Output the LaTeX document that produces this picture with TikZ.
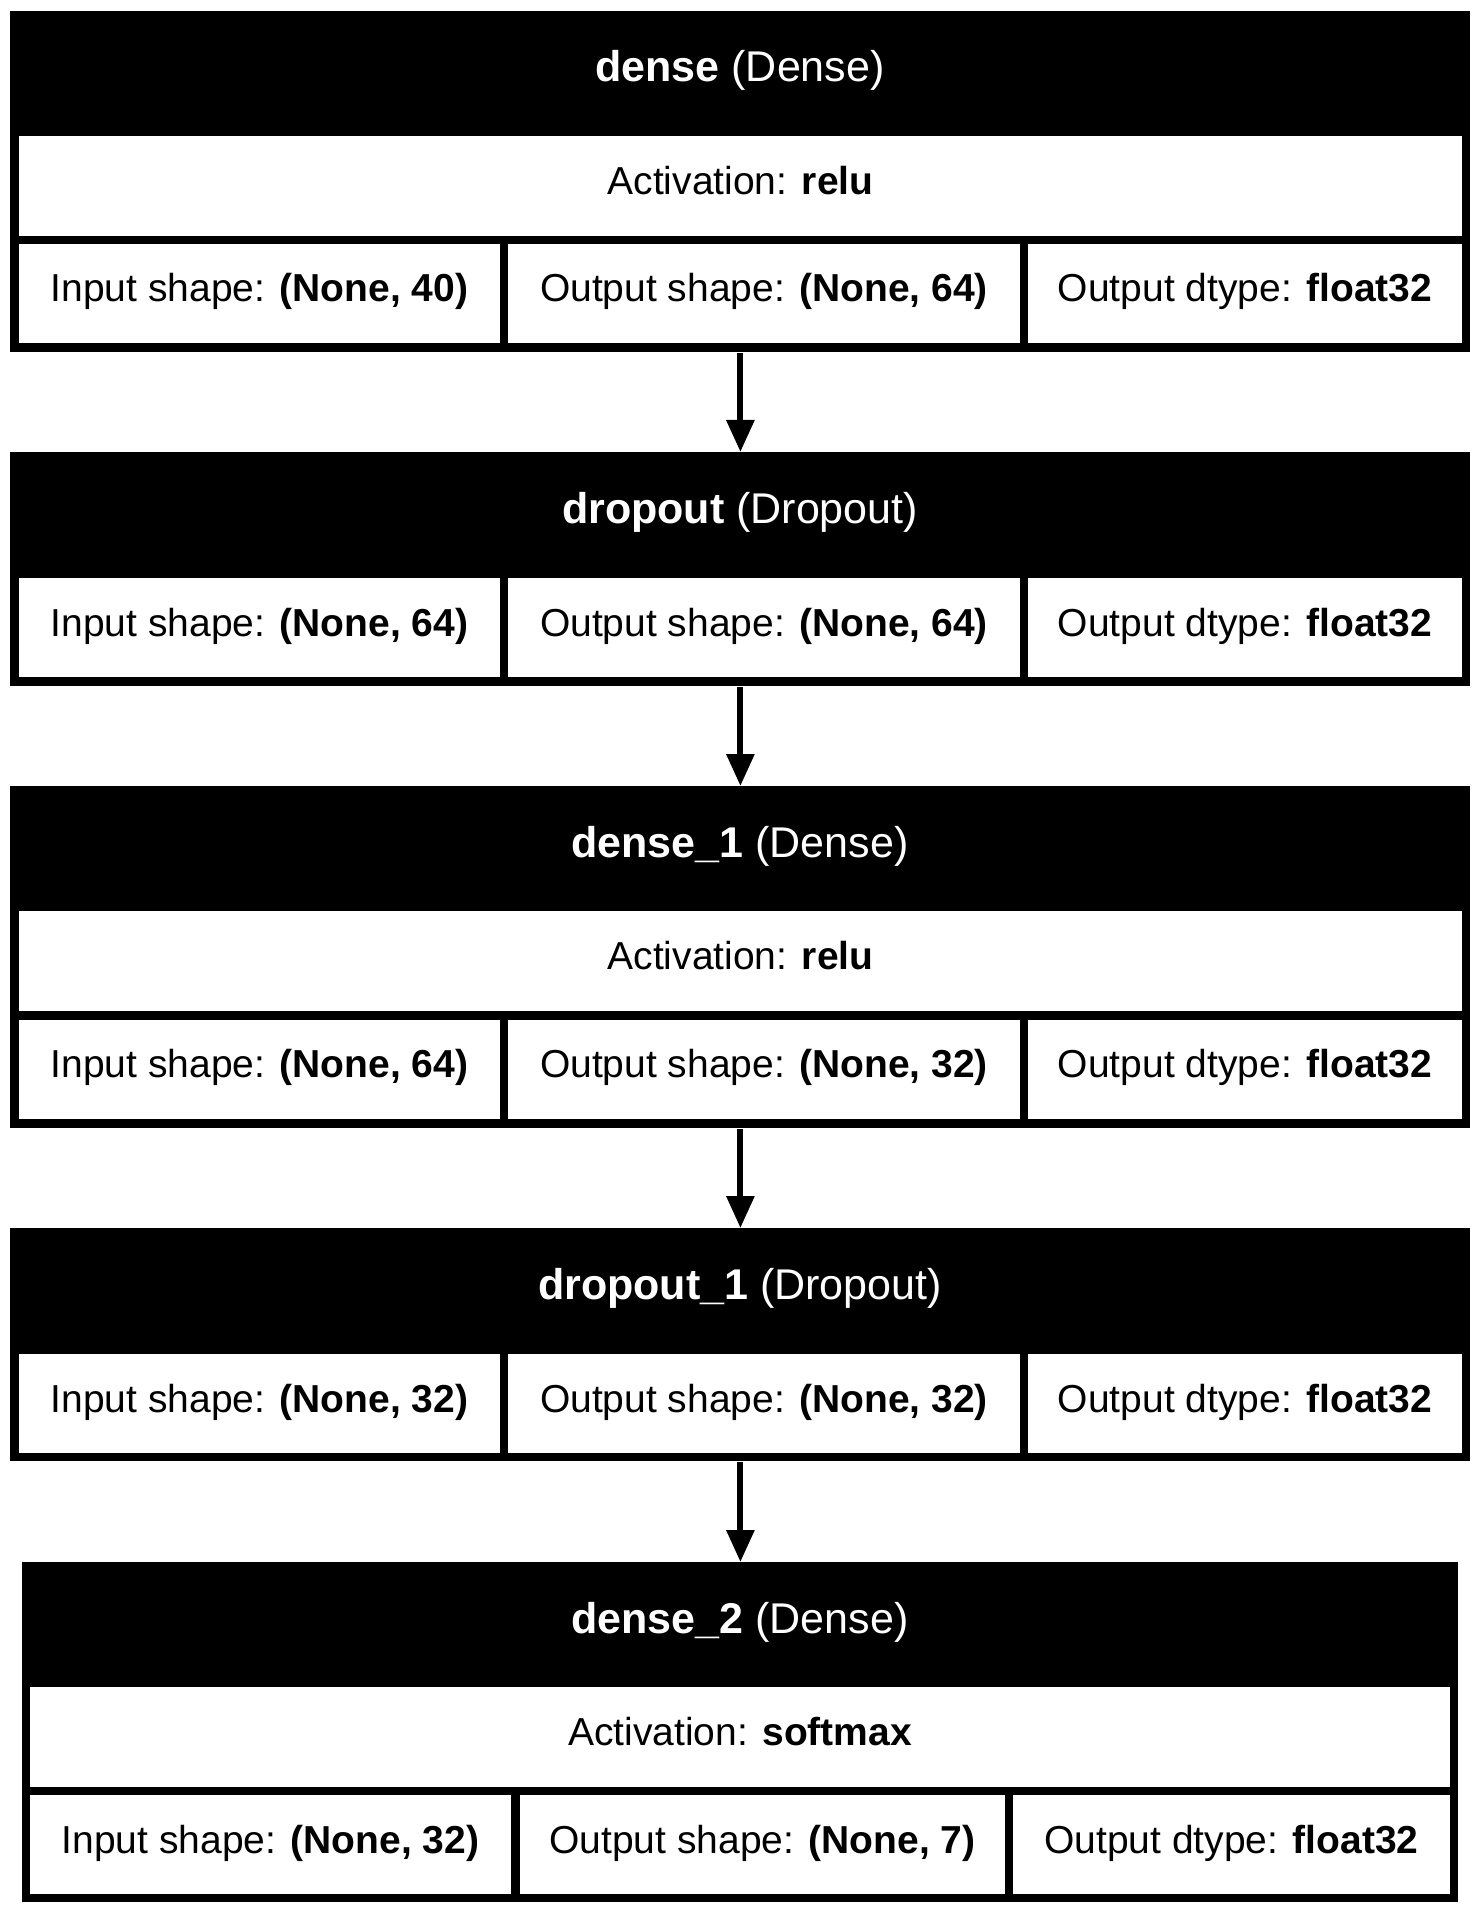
\documentclass[tikz,border=0pt]{standalone}
\usepackage{fontspec}
\setmainfont{Liberation Sans}
\usetikzlibrary{arrows.meta}

\begin{document}
\begin{tikzpicture}[
            x=0.5pt, y=-0.5pt,
            >={Triangle[length=16pt, width=13.5pt]},
            layer/.style={fill=black, inner sep=0pt, anchor=north west, minimum width=730pt},
            title/.style={text=white, inner sep=0pt, font=\fontsize{21.5}{26}\selectfont, text height=0.9em, text depth=0.05em},
            cell/.style={fill=white, inner sep=0pt, minimum height=49.5pt, font=\fontsize{19.5}{24}\selectfont, text height=0.9em, text depth=0.05em},
            flow/.style={->, line width=3pt}
        ]
            \useasboundingbox (0,0) rectangle (1481,1914);

            % dense
            \node[layer, minimum height=170.5pt] (dense) at (10,11) {};
            \node[title] (dense-name) at (740,73.5) {\textbf{dense} (Dense)};
            \node[cell, minimum width=721.5pt, minimum height=50pt] (dense-act) at (740.5,186) {Activation: \textbf{relu}};
            \node[cell, minimum width=240.5pt] (dense-in) at (259.5,293.5) {Input shape: \textbf{(None, 40)}};
            \node[cell, minimum width=256pt] (dense-out) at (764,293.5) {Output shape: \textbf{(None, 64)}};
            \node[cell, minimum width=217pt] (dense-dtype) at (1245,293.5) {Output dtype: \textbf{float32}};

            % dropout
            \node[layer, minimum height=117pt] (dropout) at (10,452) {};
            \node[title] (dropout-name) at (740,515) {\textbf{dropout} (Dropout)};
            \node[cell, minimum width=240.5pt] (dropout-in) at (259.5,627.5) {Input shape: \textbf{(None, 64)}};
            \node[cell, minimum width=256pt] (dropout-out) at (764,627.5) {Output shape: \textbf{(None, 64)}};
            \node[cell, minimum width=217pt] (dropout-dtype) at (1245,627.5) {Output dtype: \textbf{float32}};

            % dense_1
            \node[layer, minimum height=171pt] (dense1) at (10,786) {};
            \node[title] (dense1-name) at (740,848.5) {\textbf{dense\_1} (Dense)};
            \node[cell, minimum width=721.5pt, minimum height=50pt] (dense1-act) at (740.5,961) {Activation: \textbf{relu}};
            \node[cell, minimum width=240.5pt] (dense1-in) at (259.5,1069) {Input shape: \textbf{(None, 64)}};
            \node[cell, minimum width=256pt] (dense1-out) at (764,1069) {Output shape: \textbf{(None, 32)}};
            \node[cell, minimum width=217pt] (dense1-dtype) at (1245,1069) {Output dtype: \textbf{float32}};

            % dropout_1
            \node[layer, minimum height=116.5pt] (dropout1) at (10,1228) {};
            \node[title] (dropout1-name) at (740,1291) {\textbf{dropout\_1} (Dropout)};
            \node[cell, minimum width=240.5pt] (dropout1-in) at (259.5,1403.5) {Input shape: \textbf{(None, 32)}};
            \node[cell, minimum width=256pt] (dropout1-out) at (764,1403.5) {Output shape: \textbf{(None, 32)}};
            \node[cell, minimum width=217pt] (dropout1-dtype) at (1245,1403.5) {Output dtype: \textbf{float32}};

            % dense_2
            \node[layer, minimum width=718pt, minimum height=170pt] (dense2) at (22,1562) {};
            \node[title] (dense2-name) at (740,1624.5) {\textbf{dense\_2} (Dense)};
            \node[cell, minimum width=710pt, minimum height=50pt] (dense2-act) at (740,1737) {Activation: \textbf{softmax}};
            \node[cell, minimum width=240.5pt] (dense2-in) at (270.5,1844.5) {Input shape: \textbf{(None, 32)}};
            \node[cell, minimum width=242.5pt] (dense2-out) at (762.5,1844.5) {Output shape: \textbf{(None, 7)}};
            \node[cell, minimum width=218.5pt] (dense2-dtype) at (1231.5,1844.5) {Output dtype: \textbf{float32}};

            \draw[flow] (dense.south) -- (dropout.north);
            \draw[flow] (dropout.south) -- (dense1.north);
            \draw[flow] (dense1.south) -- (dropout1.north);
            \draw[flow] (dropout1.south) -- (dense2.north);
        \end{tikzpicture}
\end{document}
